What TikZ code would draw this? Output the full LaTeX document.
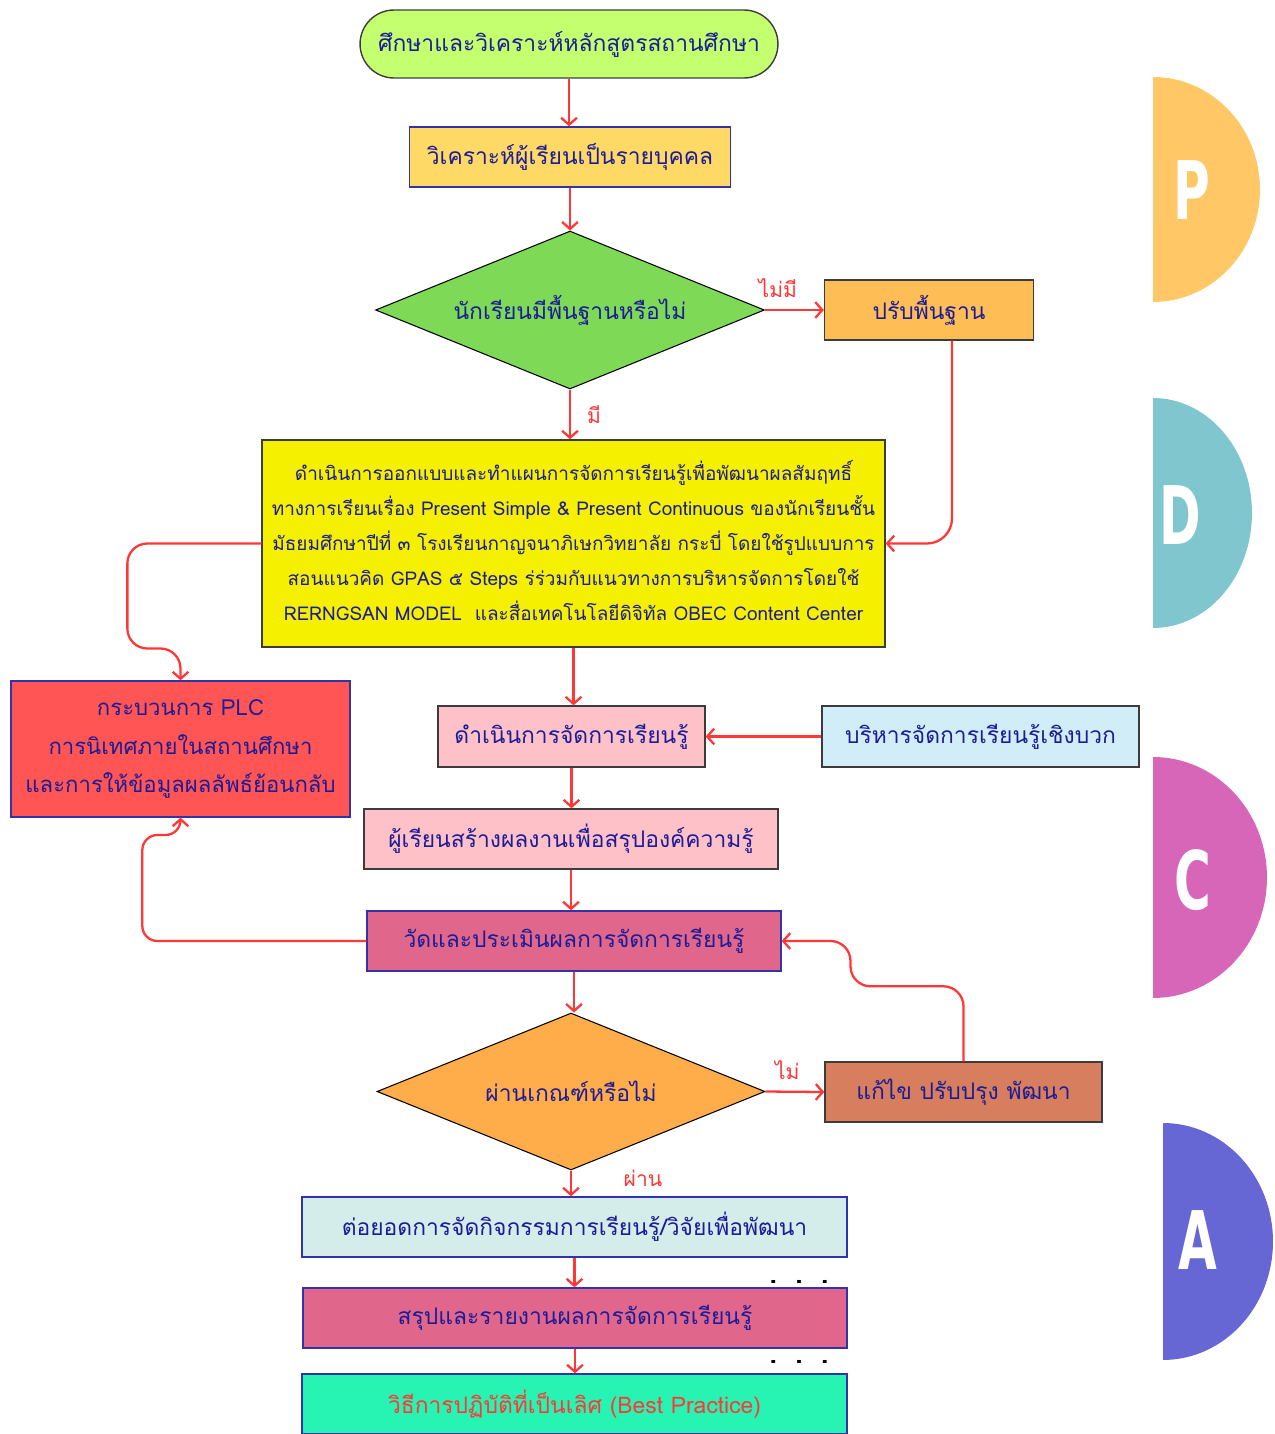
\documentclass[tikz,border=0pt]{standalone}
\usepackage{fontspec}
\newfontfamily\thaifont[Script=Thai]{Loma}
\newfontfamily\pdcafont{DejaVu Sans}
\usetikzlibrary{arrows.meta,shapes.geometric}
\definecolor{txtblue}{RGB}{28,28,150}
\definecolor{arrred}{RGB}{255,55,55}
\definecolor{edgegray}{RGB}{60,60,60}
\definecolor{edgeblue}{RGB}{50,50,170}
\definecolor{colstart}{RGB}{195,255,111}
\definecolor{colanalyse}{RGB}{255,217,102}
\definecolor{colbasic}{RGB}{126,217,87}
\definecolor{coladjust}{RGB}{255,190,85}
\definecolor{coldesign}{RGB}{245,239,0}
\definecolor{colplc}{RGB}{255,85,85}
\definecolor{collearn}{RGB}{255,193,200}
\definecolor{colposi}{RGB}{209,238,248}
\definecolor{coleval}{RGB}{224,102,140}
\definecolor{colpass}{RGB}{255,173,74}
\definecolor{colfix}{RGB}{214,126,93}
\definecolor{colextend}{RGB}{212,237,234}
\definecolor{colbest}{RGB}{39,244,179}
\definecolor{colP}{RGB}{255,199,102}
\definecolor{colD}{RGB}{127,198,206}
\definecolor{colC}{RGB}{215,102,185}
\definecolor{colA}{RGB}{102,102,213}
\begin{document}
\begin{tikzpicture}[x=0.02cm, y=-0.02cm,
    every node/.style={font=\thaifont\fontsize{13}{16}\selectfont, text=txtblue, align=center},
    box/.style={draw=edgegray, line width=0.8pt, minimum height=1.2cm, inner sep=2pt},
    bbox/.style={draw=edgeblue, line width=0.8pt, minimum height=1.2cm, inner sep=2pt},
    dia/.style={diamond, draw=black, line width=0.6pt, inner sep=1pt, aspect=2.46},
    arr/.style={draw=arrred, line width=1.3pt, -{Straight Barb[length=4pt,width=9pt]}},
    lbl/.style={text=arrred, font=\thaifont\fontsize{12}{14}\selectfont},
    pdca/.style={text=white, font=\pdcafont\bfseries\fontsize{46}{46}\selectfont},
    dots/.style={text=black, font=\thaifont\bfseries\fontsize{16}{16}\selectfont}]
    \useasboundingbox (0,0) rectangle (1275,1434);
    % PDCA half discs
    \fill[colP] (1153,77) arc[start angle=90, end angle=-90, x radius=2.14cm, y radius=2.25cm] -- cycle;
    \fill[colD] (1153,398) arc[start angle=90, end angle=-90, x radius=1.98cm, y radius=2.3cm] -- cycle;
    \fill[colC] (1153,757) arc[start angle=90, end angle=-90, x radius=2.28cm, y radius=2.41cm] -- cycle;
    \fill[colA] (1163,1123) arc[start angle=90, end angle=-90, x radius=2.2cm, y radius=2.37cm] -- cycle;
    \node[pdca] (letP) at (1192,190) {\scalebox{0.62}[1]{P}};
    \node[pdca] (letD) at (1180,515) {\scalebox{0.62}[1]{D}};
    \node[pdca] (letC) at (1193,880) {\scalebox{0.62}[1]{C}};
    \node[pdca] (letA) at (1198,1240) {\scalebox{0.62}[1]{A}};
    % flow
    \node[draw=edgegray, line width=0.8pt, fill=colstart, rounded corners=0.68cm, minimum width=8.36cm, minimum height=1.36cm] (study) at (569,44) {ศึกษาและวิเคราะห์หลักสูตรสถานศึกษา};
    \node[bbox, fill=colanalyse, minimum width=6.42cm] (analyse) at (570,157) {วิเคราะห์ผู้เรียนเป็นรายบุคคล};
    \node[dia, fill=colbasic, minimum width=7.78cm, minimum height=3.16cm] (basic) at (570,310) {นักเรียนมีพื้นฐานหรือไม่};
    \node[box, fill=coladjust, minimum width=4.18cm] (adjust) at (929,310) {ปรับพื้นฐาน};
    \node[box, fill=coldesign, minimum width=12.46cm, minimum height=4.14cm, font=\thaifont\fontsize{10.8}{19.9}\selectfont] (design) at (573.5,543.5)
        {\raisebox{0.1cm}{\begin{tabular}{@{}c@{}}
         ดำเนินการออกแบบและทำแผนการจัดการเรียนรู้เพื่อพัฒนาผลสัมฤทธิ์\\
         ทางการเรียนเรื่อง Present Simple \& Present Continuous ของนักเรียนชั้น\\
         มัธยมศึกษาปีที่ ๓ โรงเรียนกาญจนาภิเษกวิทยาลัย กระบี่ โดยใช้รูปแบบการ\\
         สอนแนวคิด GPAS ๕ Steps ร่ร่วมกับแนวทางการบริหารจัดการโดยใช้\\
         RERNGSAN MODEL\ \ และสื่อเทคโนโลยีดิจิทัล OBEC Content Center
         \end{tabular}}};
    \node[bbox, fill=colplc, minimum width=6.78cm, minimum height=2.72cm, font=\thaifont\fontsize{12.6}{22}\selectfont] (plc) at (180.5,749)
        {กระบวนการ PLC\\ การนิเทศภายในสถานศึกษา\\ และการให้ข้อมูลผลลัพธ์ย้อนกลับ};
    \node[box, fill=collearn, minimum width=5.34cm, minimum height=1.22cm] (learn) at (571.5,736.5) {ดำเนินการจัดการเรียนรู้};
    \node[box, fill=colposi, minimum width=6.34cm, minimum height=1.22cm] (posi) at (980.5,736.5) {บริหารจัดการเรียนรู้เชิงบวก};
    \node[box, fill=collearn, minimum width=8.28cm] (create) at (571,839) {ผู้เรียนสร้างผลงานเพื่อสรุปองค์ความรู้};
    \node[bbox, fill=coleval, minimum width=8.28cm] (eval) at (574,941) {วัดและประเมินผลการจัดการเรียนรู้};
    \node[dia, fill=colpass, minimum width=7.76cm, minimum height=3.14cm] (pass) at (571,1091.5) {ผ่านเกณฑ์หรือไม่};
    \node[box, fill=colfix, minimum width=5.54cm] (fix) at (963.5,1092) {แก้ไข ปรับปรุง พัฒนา};
    \node[bbox, fill=colextend, minimum width=10.9cm] (extend) at (574.5,1227) {ต่อยอดการจัดกิจกรรมการเรียนรู้/วิจัยเพื่อพัฒนา};
    \node[bbox, fill=coleval, minimum width=10.88cm] (report) at (575,1318) {สรุปและรายงานผลการจัดการเรียนรู้};
    \node[bbox, fill=colbest, minimum width=10.9cm, text=arrred] (best) at (574.5,1404) {วิธีการปฏิบัติที่เป็นเลิศ (Best Practice)};
    \node[dots] (dotsA) at (799,1282) {.\hspace{0.36cm}.\hspace{0.36cm}.};
    \node[dots] (dotsB) at (799,1362) {.\hspace{0.36cm}.\hspace{0.36cm}.};
    % connectors
    \draw[arr] (study.south) -- (study.south |- analyse.north);
    \draw[arr] (analyse.south) -- (analyse.south |- basic.north);
    \draw[arr] (basic.east) -- node[lbl, above=3pt, pos=0.22] {ไม่มี} (adjust.west);
    \draw[arr] (basic.south) -- node[lbl, right=0.2cm] {มี} (basic.south |- design.north);
    \draw[arr, rounded corners=0.5cm] ([xshift=0.46cm]adjust.south) |- (design.east);
    \draw[arr, rounded corners=0.4cm] (design.west) -| ++(-134,105) -| (plc.north);
    \draw[arr] (design.south) -- (design.south |- learn.north);
    \draw[arr] (posi.west) -- (learn.east);
    \draw[arr] (learn.south) -- (learn.south |- create.north);
    \draw[arr] (create.south) -- (create.south |- eval.north);
    \draw[arr, rounded corners=0.3cm] (eval.west) -| ++(-224,-106) -| (plc.south);
    \draw[arr] (eval.south) -- (eval.south |- pass.north);
    \draw[arr] (pass.east) -- node[lbl, above=3pt, pos=0.37] {ไม่} (fix.west);
    \draw[arr, rounded corners=0.4cm] (fix.north) |- ++(-113,-75) |- (eval.east);
    \draw[arr] (pass.south) -- node[lbl, pos=0.3, xshift=1.44cm] {ผ่าน} (pass.south |- extend.north);
    \draw[arr] (extend.south) -- (extend.south |- report.north);
    \draw[arr] (report.south) -- (report.south |- best.north);
\end{tikzpicture}
\end{document}
